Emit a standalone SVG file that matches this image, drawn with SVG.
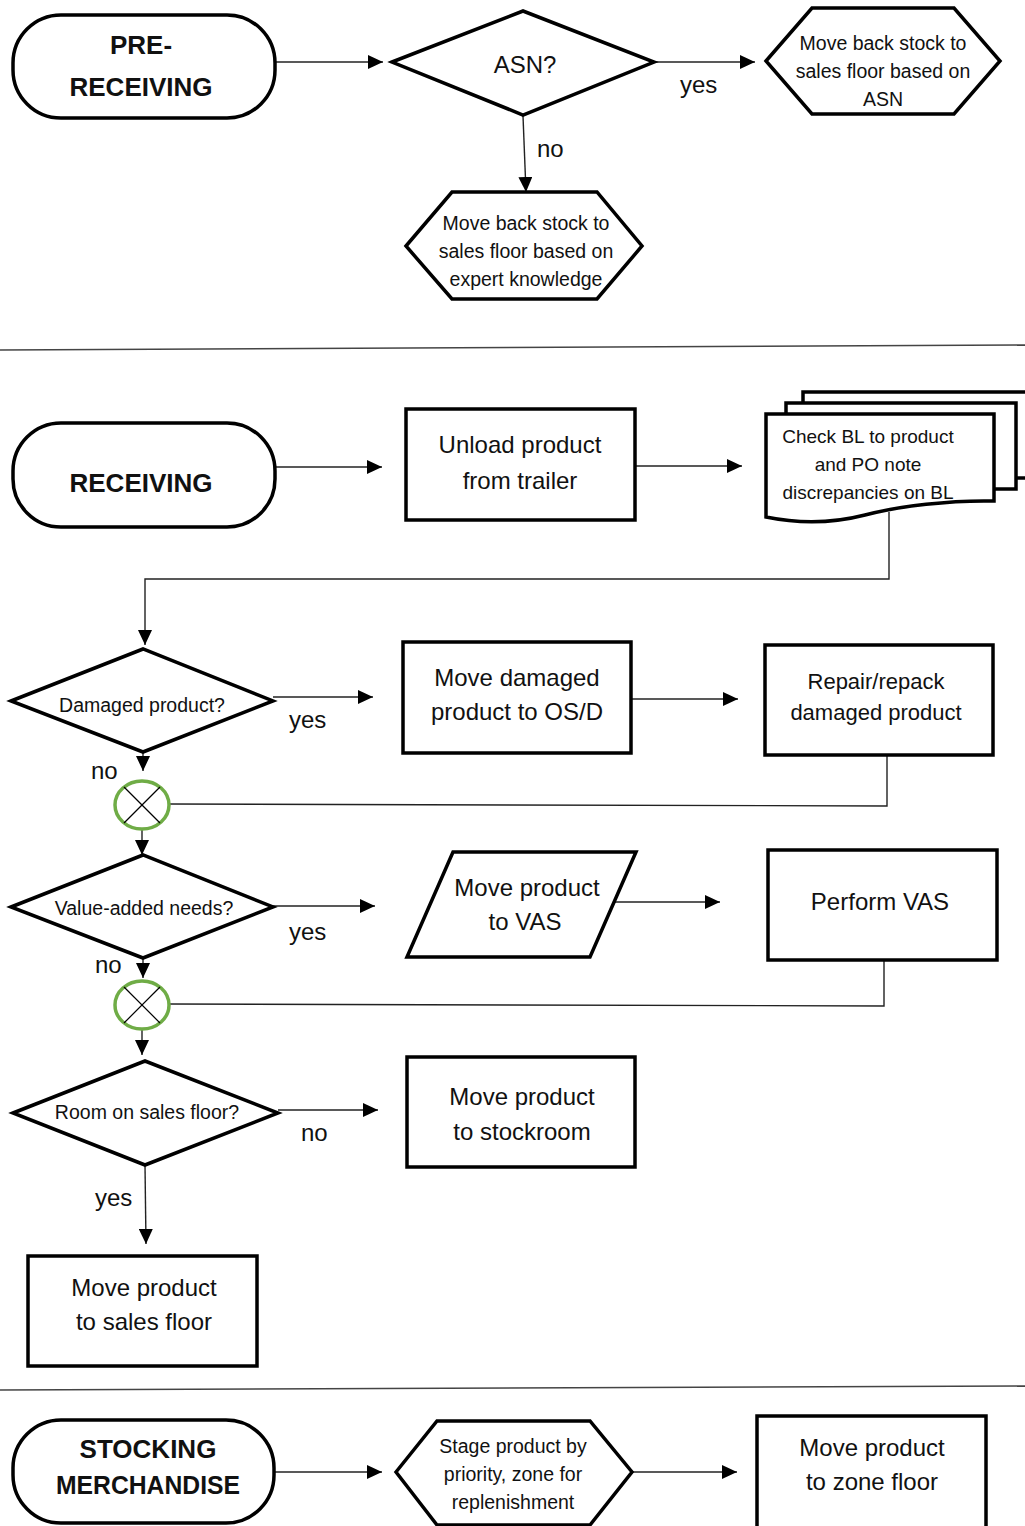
<svg xmlns="http://www.w3.org/2000/svg" width="1025" height="1526" viewBox="0 0 1025 1526">
<style>
.shape{fill:#fff;stroke:#000;stroke-width:3.5;stroke-linejoin:miter}
.conn{fill:none;stroke:#222;stroke-width:1.4}
.sep{fill:none;stroke:#444;stroke-width:1.5}
.merge{fill:#fff;stroke:#6fac46;stroke-width:3.5}
.x{stroke:#000;stroke-width:1.2}
text{font-family:"Liberation Sans",Arial,sans-serif;fill:#111;text-anchor:middle}
.title{font-weight:bold;font-size:26px}
.t24{font-size:24px}
.t22{font-size:22px}
.t19{font-size:19.5px}
.t18{font-size:19px}
.lbl{font-size:24px;text-anchor:start}
</style>
<defs>
<marker id="arr" markerUnits="userSpaceOnUse" markerWidth="16" markerHeight="14" refX="15" refY="7" orient="auto">
<path d="M0,0 L15,7 L0,14 Z" fill="#000"/>
</marker>
</defs>

<g id="separators">
<line class="sep" x1="0" y1="350" x2="1025" y2="345"/>
<line class="sep" x1="0" y1="1390" x2="1025" y2="1386"/>
</g>

<g id="connectors">
<line class="conn" x1="276" y1="62" x2="383" y2="62" marker-end="url(#arr)"/>
<line class="conn" x1="655" y1="62" x2="755" y2="62" marker-end="url(#arr)"/>
<line class="conn" x1="523" y1="116" x2="526" y2="192" marker-end="url(#arr)"/>
<line class="conn" x1="276" y1="467" x2="382" y2="467" marker-end="url(#arr)"/>
<line class="conn" x1="636" y1="466" x2="742" y2="466" marker-end="url(#arr)"/>
<polyline class="conn" points="889,512 889,579 145,579 145,645" marker-end="url(#arr)"/>
<line class="conn" x1="273" y1="697" x2="373" y2="697" marker-end="url(#arr)"/>
<line class="conn" x1="143" y1="752" x2="143" y2="771" marker-end="url(#arr)"/>
<line class="conn" x1="632" y1="699" x2="738" y2="699" marker-end="url(#arr)"/>
<polyline class="conn" points="887,756 887,806 169,804"/>
<line class="conn" x1="142" y1="829" x2="142" y2="855" marker-end="url(#arr)"/>
<line class="conn" x1="273" y1="906" x2="375" y2="906" marker-end="url(#arr)"/>
<line class="conn" x1="614" y1="902" x2="720" y2="902" marker-end="url(#arr)"/>
<line class="conn" x1="143" y1="958" x2="143" y2="978" marker-end="url(#arr)"/>
<polyline class="conn" points="884,961 884,1006 169,1004"/>
<line class="conn" x1="142" y1="1029" x2="142" y2="1055" marker-end="url(#arr)"/>
<line class="conn" x1="278" y1="1110" x2="378" y2="1110" marker-end="url(#arr)"/>
<line class="conn" x1="145" y1="1165" x2="146" y2="1244" marker-end="url(#arr)"/>
<line class="conn" x1="275" y1="1472" x2="382" y2="1472" marker-end="url(#arr)"/>
<line class="conn" x1="632" y1="1472" x2="737" y2="1472" marker-end="url(#arr)"/>
<text class="lbl" x="680" y="93">yes</text>
<text class="lbl" x="537" y="157">no</text>
<text class="lbl" x="289" y="728">yes</text>
<text class="lbl" x="91" y="779">no</text>
<text class="lbl" x="289" y="940">yes</text>
<text class="lbl" x="95" y="973">no</text>
<text class="lbl" x="301" y="1141">no</text>
<text class="lbl" x="95" y="1206">yes</text>
</g>

<g id="pre-receiving">
<rect class="shape" x="13" y="15" width="262" height="103" rx="48" ry="48"/>
<text class="title" x="141" y="54">PRE-</text>
<text class="title" x="141" y="96">RECEIVING</text>
</g>

<g id="asn">
<polygon class="shape" points="392,62 523,11 654,62 523,115"/>
<text class="t24" x="525" y="73">ASN?</text>
</g>

<g id="asn-yes">
<polygon class="shape" points="766,61 812,8 954,8 1000,61 954,114 812,114"/>
<text class="t19" x="883" y="50">Move back stock to</text>
<text class="t19" x="883" y="78">sales floor based on</text>
<text class="t19" x="883" y="106">ASN</text>
</g>

<g id="asn-no">
<polygon class="shape" points="406,246 452,192 597,192 642,246 597,299 452,299"/>
<text class="t19" x="526" y="230">Move back stock to</text>
<text class="t19" x="526" y="258">sales floor based on</text>
<text class="t19" x="526" y="286">expert knowledge</text>
</g>

<g id="receiving">
<rect class="shape" x="13" y="423" width="262" height="104" rx="48" ry="48"/>
<text class="title" x="141" y="492">RECEIVING</text>
</g>

<g id="unload">
<rect class="shape" x="406" y="409" width="229" height="111"/>
<text class="t24" x="520" y="453">Unload product</text>
<text class="t24" x="520" y="489">from trailer</text>
</g>

<g id="check-bl">
<rect class="shape" x="803" y="392" width="235" height="86"/>
<rect class="shape" x="786" y="403" width="230" height="86"/>
<path class="shape" d="M766,414 H994 V501 C950,500 900,506 865,515 C830,524 795,523 766,517 Z"/>
<text class="t18" x="868" y="443">Check BL to product</text>
<text class="t18" x="868" y="471">and PO note</text>
<text class="t18" x="868" y="499">discrepancies on BL</text>
</g>

<g id="damaged">
<polygon class="shape" points="11,701 143,649 273,701 143,752"/>
<text class="t19" x="142" y="712">Damaged product?</text>
</g>

<g id="move-osd">
<rect class="shape" x="403" y="642" width="228" height="111"/>
<text class="t24" x="517" y="686">Move damaged</text>
<text class="t24" x="517" y="720">product to OS/D</text>
</g>

<g id="repair">
<rect class="shape" x="765" y="645" width="228" height="110"/>
<text class="t22" x="876" y="689">Repair/repack</text>
<text class="t22" x="876" y="720">damaged product</text>
</g>

<g id="merge1">
<ellipse class="merge" cx="142" cy="805" rx="27" ry="24"/>
<line class="x" x1="124" y1="787" x2="160" y2="823"/>
<line class="x" x1="160" y1="787" x2="124" y2="823"/>
</g>

<g id="value-added">
<polygon class="shape" points="11,907 143,855 273,907 143,958"/>
<text class="t19" x="144" y="915">Value-added needs?</text>
</g>

<g id="move-vas">
<polygon class="shape" points="453,852 636,852 590,957 407,957"/>
<text class="t24" x="527" y="896">Move product</text>
<text class="t24" x="525" y="930">to VAS</text>
</g>

<g id="perform-vas">
<rect class="shape" x="768" y="850" width="229" height="110"/>
<text class="t24" x="880" y="910">Perform VAS</text>
</g>

<g id="merge2">
<ellipse class="merge" cx="142" cy="1005" rx="27" ry="24"/>
<line class="x" x1="124" y1="987" x2="160" y2="1023"/>
<line class="x" x1="160" y1="987" x2="124" y2="1023"/>
</g>

<g id="room">
<polygon class="shape" points="13,1113 145,1061 278,1113 145,1165"/>
<text class="t19" x="147" y="1119">Room on sales floor?</text>
</g>

<g id="stockroom">
<rect class="shape" x="407" y="1057" width="228" height="110"/>
<text class="t24" x="522" y="1105">Move product</text>
<text class="t24" x="522" y="1140">to stockroom</text>
</g>

<g id="sales-floor">
<rect class="shape" x="28" y="1256" width="229" height="110"/>
<text class="t24" x="144" y="1296">Move product</text>
<text class="t24" x="144" y="1330">to sales floor</text>
</g>

<g id="stocking">
<rect class="shape" x="13" y="1420" width="261" height="103" rx="48" ry="48"/>
<text class="title" x="148" y="1458">STOCKING</text>
<text class="title" x="148" y="1494" textLength="184" lengthAdjust="spacingAndGlyphs">MERCHANDISE</text>
</g>

<g id="stage">
<polygon class="shape" points="396,1472 437,1421 590,1421 632,1472 590,1525 437,1525"/>
<text class="t19" x="513" y="1453">Stage product by</text>
<text class="t19" x="513" y="1481">priority, zone for</text>
<text class="t19" x="513" y="1509">replenishment</text>
</g>

<g id="zone-floor">
<rect class="shape" x="757" y="1416" width="229" height="112"/>
<text class="t24" x="872" y="1456">Move product</text>
<text class="t24" x="872" y="1490">to zone floor</text>
</g>
</svg>
